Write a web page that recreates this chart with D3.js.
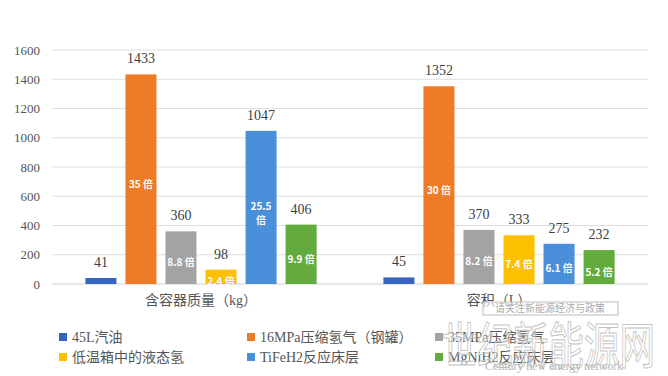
<!DOCTYPE html>
<html>
<head>
<meta charset="utf-8">
<script src="https://cdn.jsdelivr.net/npm/d3@7"></script>
<style>
  body { margin: 0; background: #ffffff; }
  svg { display: block; }
</style>
</head>
<body>
<svg id="chart" width="668" height="376"></svg>
<script>
const categories = ['含容器质量（kg）', '容积（L）']
const seriesNames = ['45L汽油', '16MPa压缩氢气（钢罐）', '35MPa压缩氢气', '低温箱中的液态氢', 'TiFeH2反应床层', 'MgNiH2反应床层']
const massValues = [41, 1433, 360, 98, 1047, 406]
const volumeValues = [45, 1352, 370, 333, 275, 232]
const massRatios = ['', '35 倍', '8.8 倍', '2.4 倍', '25.5 倍', '9.9 倍']
const volumeRatios = ['', '30 倍', '8.2 倍', '7.4 倍', '6.1 倍', '5.2 倍']
const yTicks = [0, 200, 400, 600, 800, 1000, 1200, 1400, 1600]

const colors = ['#3565c3', '#ee7b25', '#a3a3a3', '#fcc000', '#4a8fd9', '#62ab3c']

const svg = d3.select('#chart')
const width = 668
const height = 376
const margin = {top: 50, right: 20, bottom: 92, left: 52}
const serif = "'Liberation Serif', 'Noto Sans CJK SC', serif"
const cjk = "'Noto Sans CJK SC', sans-serif"

// rows: one per category
const rows = categories.map((c, i) => ({
  category: c,
  values: i == 0 ? massValues : volumeValues,
  ratios: i == 0 ? massRatios : volumeRatios
}))

const x0 = d3.scaleBand()
  .domain(categories)
  .range([margin.left, width - margin.right])

const x1 = d3.scaleBand()
  .domain(seriesNames)
  .range([29, x0.bandwidth() - 29])
  .paddingInner(0.225)
  .paddingOuter(0.11)

const y = d3.scaleLinear()
  .domain([0, 1600])
  .range([height - margin.bottom, margin.top])

// gridlines
svg.append('g').selectAll('line')
  .data(yTicks)
  .enter()
  .append('line')
  .attr('x1', margin.left)
  .attr('x2', width - margin.right)
  .attr('y1', d => y(d))
  .attr('y2', d => y(d))
  .attr('stroke', d => d == 0 ? '#cfcfcf' : '#dedede')
  .attr('stroke-width', 1)

// y axis labels (no axis line)
const yAxis = d3.axisLeft(y)
  .tickValues(yTicks)
  .tickFormat(d3.format('d'))
  .tickSize(0)
  .tickPadding(12)
const yAxisG = svg.append('g')
  .attr('transform', `translate(${margin.left},0)`)
  .call(yAxis)
yAxisG.select('.domain').remove()
yAxisG.selectAll('text')
  .attr('font-family', serif)
  .attr('font-size', 13)
  .attr('fill', '#555')

const groups = svg.append('g').selectAll('g')
  .data(rows)
  .enter()
  .append('g')
  .attr('transform', d => `translate(${x0(d.category)},0)`)

const bars = groups.selectAll('g')
  .data(d => d.values.map((v, i) => ({name: seriesNames[i], value: v, ratio: d.ratios[i], idx: i})))
  .enter()
  .append('g')

bars.append('rect')
  .attr('x', d => x1(d.name))
  .attr('y', d => y(d.value))
  .attr('width', x1.bandwidth())
  .attr('height', d => y(0) - y(d.value))
  .attr('fill', d => colors[d.idx])

// value labels above bars
bars.append('text')
  .attr('x', d => x1(d.name) + x1.bandwidth() / 2)
  .attr('y', d => y(d.value) - 11)
  .attr('text-anchor', 'middle')
  .attr('font-family', serif)
  .attr('font-size', 14)
  .attr('fill', '#404040')
  .text(d => d.value)

// ratio labels inside bars
const ratioText = bars.filter(d => d.ratio != '')
  .append('text')
  .attr('x', d => x1(d.name) + x1.bandwidth() / 2)
  .attr('y', d => (y(d.value) + y(0)) / 2 + 4)
  .attr('text-anchor', 'middle')
  .attr('dominant-baseline', 'central')
  .attr('font-family', cjk)
  .attr('font-weight', 'bold')
  .attr('font-size', 10)
  .attr('fill', '#fff')
  .text(d => d.ratio)

ratioText.each(function(d) {
  const t = d3.select(this)
  if (this.getComputedTextLength() > x1.bandwidth()) {
    const parts = d.ratio.split(' ')
    const cx = t.attr('x')
    t.text('')
    parts.forEach((p, i) => {
      t.append('tspan')
        .attr('x', cx)
        .attr('dy', i == 0 ? '-0.6em' : '1.4em')
        .text(p)
    })
  }
})

// category labels
svg.append('g').selectAll('text')
  .data(categories)
  .enter()
  .append('text')
  .attr('x', d => x0(d) + x0.bandwidth() / 2)
  .attr('y', 305)
  .attr('text-anchor', 'middle')
  .attr('font-family', serif)
  .attr('font-size', 14)
  .attr('fill', '#555')
  .text(d => d)

// legend
const legendX = [59, 247, 435]
const legendY = [337, 357]
const legend = svg.append('g').selectAll('g')
  .data(seriesNames)
  .enter()
  .append('g')
  .attr('transform', (d, i) => `translate(${legendX[i % 3]},${legendY[Math.floor(i / 3)]})`)

legend.append('rect')
  .attr('x', 0)
  .attr('y', -4)
  .attr('width', 8)
  .attr('height', 8)
  .attr('fill', (d, i) => colors[i])

legend.append('text')
  .attr('x', 13)
  .attr('y', 0)
  .attr('dominant-baseline', 'central')
  .attr('font-family', serif)
  .attr('font-size', 14)
  .attr('fill', '#555')
  .text(d => d)

// watermarks
const wm = svg.append('g').attr('pointer-events', 'none')
wm.append('text')
  .attr('x', 442)
  .attr('y', 364)
  .attr('font-family', cjk)
  .attr('font-size', 50)
  .attr('textLength', 213)
  .attr('lengthAdjust', 'spacingAndGlyphs')
  .attr('fill', 'rgba(255,255,255,0.35)')
  .attr('stroke', '#c4c4c4')
  .attr('stroke-width', 1)
  .text('世纪新能源网')
wm.append('rect')
  .attr('x', 483)
  .attr('y', 302)
  .attr('width', 135)
  .attr('height', 13)
  .attr('fill', 'rgba(255,255,255,0.6)')
  .attr('stroke', '#bbb')
wm.append('text')
  .attr('x', 550)
  .attr('y', 312)
  .attr('text-anchor', 'middle')
  .attr('font-family', cjk)
  .attr('font-size', 10)
  .attr('fill', '#aaa')
  .text('请关注新能源经济与政策')
wm.append('text')
  .attr('x', 485)
  .attr('y', 370)
  .attr('font-family', serif)
  .attr('font-size', 13)
  .attr('textLength', 138)
  .attr('lengthAdjust', 'spacingAndGlyphs')
  .attr('fill', '#b5b5b5')
  .text('Century new energy network')
</script>
</body>
</html>
